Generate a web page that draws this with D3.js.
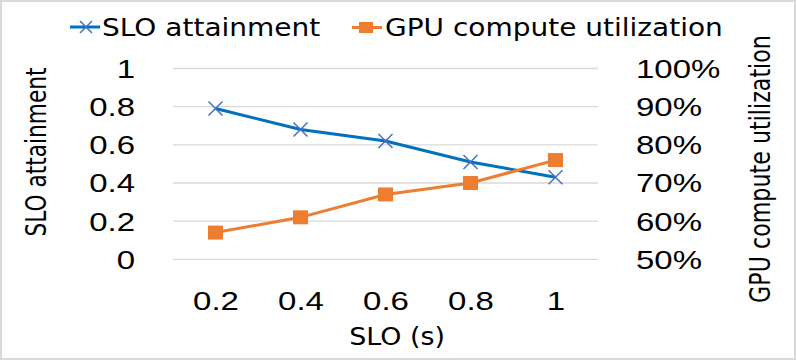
<!DOCTYPE html>
<html>
<head>
<meta charset="utf-8">
<script src="https://cdn.jsdelivr.net/npm/d3@7"></script>
<style>
  html, body { margin: 0; padding: 0; background: #fff; }
  svg { display: block; font-family: "DejaVu Sans", Verdana, sans-serif; }
  .grid-line { stroke: #d9d9d9; stroke-width: 1.3; }
  .tick text { fill: #000; font-size: 25px; }
</style>
</head>
<body>
<div id="chart"></div>
<script>
// SLO (s) categories
const sloValues = ["0.2", "0.4", "0.6", "0.8", "1"];
// SLO attainment (left axis)
const sloAttainment = [0.79, 0.68, 0.62, 0.51, 0.43];
// GPU compute utilization (right axis, fraction)
const gpuUtil = [0.57, 0.61, 0.67, 0.70, 0.76];

const leftTicks = [0, 0.2, 0.4, 0.6, 0.8, 1];
const rightTicks = [0.5, 0.6, 0.7, 0.8, 0.9, 1];

const W = 797, H = 361;
const plot = { left: 173, right: 598, top: 68.5, bottom: 259.3 };
const textStretch = 1.32;

const svg = d3.select("#chart").append("svg")
    .attr("width", W)
    .attr("height", H);

// outer border
svg.append("rect")
    .attr("x", 1).attr("y", 1)
    .attr("width", W - 3).attr("height", H - 3)
    .attr("fill", "none")
    .attr("stroke", "#d9d9d9")
    .attr("stroke-width", 2);

// scales
const x = d3.scalePoint()
    .domain(sloValues)
    .range([plot.left, plot.right])
    .padding(0.5);

const yLeft = d3.scaleLinear()
    .domain([0, 1])
    .range([plot.bottom, plot.top]);

const yRight = d3.scaleLinear()
    .domain([0.5, 1])
    .range([plot.bottom, plot.top]);

// grid lines
svg.append("g")
    .selectAll("line")
    .data(leftTicks)
    .join("line")
    .attr("class", "grid-line")
    .attr("x1", plot.left)
    .attr("x2", plot.right)
    .attr("y1", d => yLeft(d))
    .attr("y2", d => yLeft(d));

// left axis
const leftAxis = svg.append("g")
    .attr("transform", "translate(135,0)")
    .call(d3.axisLeft(yLeft).tickValues(leftTicks).tickSize(0).tickPadding(0)
        .tickFormat(d => d3.format("")(+d.toFixed(1))));
leftAxis.select(".domain").remove();
leftAxis.selectAll(".tick text")
    .attr("x", 0).attr("dy", "0.36em")
    .attr("transform", `scale(${textStretch},1)`);

// right axis
const rightAxis = svg.append("g")
    .attr("transform", "translate(636,0)")
    .call(d3.axisRight(yRight).tickValues(rightTicks).tickSize(0).tickPadding(0)
        .tickFormat(d3.format(".0%")));
rightAxis.select(".domain").remove();
rightAxis.selectAll(".tick text")
    .attr("x", 0).attr("dy", "0.36em")
    .attr("transform", `scale(${textStretch},1)`);

// bottom axis
const bottomAxis = svg.append("g")
    .attr("transform", `translate(0,${plot.bottom})`)
    .call(d3.axisBottom(x).tickSize(0).tickPadding(0));
bottomAxis.select(".domain").remove();
bottomAxis.selectAll(".tick text")
    .attr("y", 33).attr("dy", "0.71em")
    .attr("transform", `scale(${textStretch},1)`);

// axis titles
svg.append("text")
    .attr("transform", "translate(397,345) scale(1.12,1)")
    .attr("text-anchor", "middle")
    .style("font-size", "24px")
    .text("SLO (s)");

svg.append("text")
    .attr("transform", "translate(46,152) rotate(-90) scale(1,1.3)")
    .attr("text-anchor", "middle")
    .style("font-size", "21.7px")
    .text("SLO attainment");

svg.append("text")
    .attr("transform", "translate(770,169) rotate(-90) scale(1,1.3)")
    .attr("text-anchor", "middle")
    .style("font-size", "22.2px")
    .text("GPU compute utilization");

// series
const blue = "#0070c0", blueMarker = "#4472c4", orange = "#ed7d31";

const lineLeft = d3.line()
    .x((d, i) => x(sloValues[i]))
    .y(d => yLeft(d));

const lineRight = d3.line()
    .x((d, i) => x(sloValues[i]))
    .y(d => yRight(d));

svg.append("path")
    .datum(sloAttainment)
    .attr("d", lineLeft)
    .attr("fill", "none")
    .attr("stroke", blue)
    .attr("stroke-width", 3);

const xMark = s => `M${-s},${-s}L${s},${s}M${-s},${s}L${s},${-s}`;

svg.append("g")
    .selectAll("path")
    .data(sloAttainment)
    .join("path")
    .attr("transform", (d, i) => `translate(${x(sloValues[i])},${yLeft(d)})`)
    .attr("d", xMark(7))
    .attr("stroke", blueMarker)
    .attr("stroke-width", 1.5)
    .attr("fill", "none");

svg.append("path")
    .datum(gpuUtil)
    .attr("d", lineRight)
    .attr("fill", "none")
    .attr("stroke", orange)
    .attr("stroke-width", 3);

svg.append("g")
    .selectAll("rect")
    .data(gpuUtil)
    .join("rect")
    .attr("x", (d, i) => x(sloValues[i]) - 7.5)
    .attr("y", d => yRight(d) - 7)
    .attr("width", 15)
    .attr("height", 14)
    .attr("fill", orange);

// legend
const legend = svg.append("g");
legend.append("line")
    .attr("x1", 70).attr("x2", 100).attr("y1", 27).attr("y2", 27)
    .attr("stroke", blue).attr("stroke-width", 3);
legend.append("path")
    .attr("transform", "translate(86,27)")
    .attr("d", xMark(6))
    .attr("stroke", blueMarker).attr("stroke-width", 1.5).attr("fill", "none");
legend.append("text")
    .attr("transform", "translate(102,36) scale(1.12,1)")
    .style("font-size", "25px")
    .text("SLO attainment");

legend.append("line")
    .attr("x1", 352).attr("x2", 382).attr("y1", 27.5).attr("y2", 27.5)
    .attr("stroke", orange).attr("stroke-width", 3);
legend.append("rect")
    .attr("x", 359).attr("y", 22).attr("width", 14).attr("height", 11)
    .attr("fill", orange);
legend.append("text")
    .attr("transform", "translate(385,36) scale(1.12,1)")
    .style("font-size", "25px")
    .text("GPU compute utilization");
</script>
</body>
</html>
